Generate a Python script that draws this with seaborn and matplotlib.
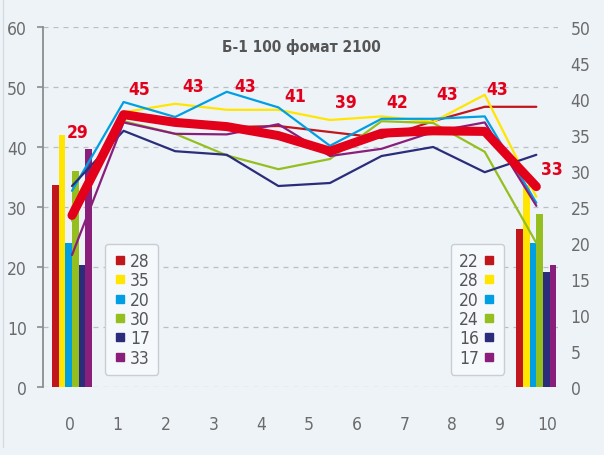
import numpy as np
import pandas as pd
import matplotlib
matplotlib.use('Agg')
import matplotlib.pyplot as plt
from matplotlib.lines import Line2D
import seaborn as sns

# data
positions = list(range(10))
series_names = ['s1', 's2', 's3', 's4', 's5', 's6']
series_colors = ['#c1161c', '#ffe500', '#009fe3', '#95bf1f', '#2b2d7a', '#8a1e7b']

line_red = [28.0, 45.0, 44.0, 43.3, 43.5, 42.5, 41.5, 44.3, 46.7, 46.7]
line_yellow = [30.0, 45.8, 47.2, 46.2, 46.2, 44.5, 45.1, 44.2, 48.7, 31.7]
line_blue = [32.7, 47.5, 45.0, 49.2, 46.6, 40.2, 44.7, 44.7, 45.1, 30.7]
line_green = [27.7, 44.3, 42.2, 38.6, 36.3, 38.0, 44.3, 44.0, 39.2, 24.0]
line_navy = [33.5, 42.7, 39.3, 38.7, 33.5, 34.0, 38.5, 40.0, 35.8, 38.7]
line_purple = [22.0, 44.1, 42.2, 42.1, 43.8, 38.5, 39.7, 42.5, 44.1, 30.2]
line_avg = [28.6, 45.4, 44.1, 43.4, 41.9, 39.3, 42.3, 42.7, 42.6, 33.4]
avg_labels = [29, 45, 43, 43, 41, 39, 42, 43, 43, 33]

bar_positions = [0, 9]
bars_start = [28, 35, 20, 30, 17, 33]
bars_end = [22, 28, 20, 24, 16, 17]

x_tick_labels = [str(i) for i in range(11)]

# layout for the red value labels
label_dx = [0.1, 0.3, 0.35, 0.35, 0.33, 0.31, 0.3, 0.27, 0.24, 0.3]
label_y = [42.5, 49.7, 50.2, 50.2, 48.5, 47.5, 47.5, 48.8, 49.7, 36.3]

bg = '#eef3f7'
grey_txt = '#6b6b6b'

sns.set_style('white')
plt.rcParams['font.family'] = ['DejaVu Sans']
plt.rcParams['font.stretch'] = 'condensed'

line_df = pd.DataFrame({
    'pos': positions * 6,
    'value': line_red + line_yellow + line_blue + line_green + line_navy + line_purple,
    'series': np.repeat(series_names, len(positions)),
})
bar_df = pd.DataFrame({
    'pos': np.repeat(bar_positions, 6),
    'value': bars_start + bars_end,
    'series': series_names * 2,
})
palette = dict(zip(series_names, series_colors))

fig = plt.figure(figsize=(6.04, 4.56), dpi=100, facecolor=bg)
fig.add_artist(Line2D([3 / 604, 3 / 604], [1 - 448 / 456, 1], transform=fig.transFigure,
                      color='#d5dbe2', lw=1))

ax = fig.add_axes([43 / 604, 1 - 388 / 456, (558 - 43) / 604, 360 / 456])
ax2 = ax.twinx()
ax.set_zorder(ax2.get_zorder() + 1)
ax.patch.set_visible(False)
ax2.patch.set_facecolor(bg)

# bars (right scale)
sns.barplot(data=bar_df, x='pos', y='value', hue='series', native_scale=True,
            palette=palette, width=0.77 / 9, saturation=1, errorbar=None,
            legend=False, ax=ax2, zorder=2, linewidth=0)
for v in range(0, 61, 10):
    ax2.axhline(v * 50 / 60, color='#b9bec4', lw=0.9, dashes=(4, 4), zorder=0)

# lines (left scale)
sns.lineplot(data=line_df, x='pos', y='value', hue='series', palette=palette,
             linewidth=1.6, legend=False, ax=ax, sort=False)
sns.lineplot(x=positions, y=line_avg, color='#e2001a', linewidth=6.5, ax=ax,
             solid_capstyle='round', solid_joinstyle='round')

for p, dx, ly, lab in zip(positions, label_dx, label_y, avg_labels):
    ax.text(p + dx, ly, str(lab), color='#e2001a', fontsize=12.5, fontweight='bold',
            ha='center', va='center')

ax.set_xlim(-0.562, 9.42)
ax.set_ylim(0, 60)
ax2.set_ylim(0, 50)
ax.set_yticks(range(0, 61, 10))
ax2.set_yticks(range(0, 51, 5))
ax.set_xticks([-0.04 + 0.926 * j for j in range(11)])
ax.set_xticklabels(x_tick_labels)
for a in (ax, ax2):
    a.set_xlabel('')
    a.set_ylabel('')
    for s in a.spines.values():
        s.set_visible(False)
ax.spines['left'].set_visible(True)
ax.spines['left'].set_color('#8c8c8c')
ax.spines['left'].set_linewidth(1.3)
ax.tick_params(axis='y', left=True, length=4.5, width=1.2, color='#8c8c8c',
               labelsize=12.5, labelcolor=grey_txt, pad=7)
ax.tick_params(axis='x', bottom=False, labelsize=12.5, labelcolor=grey_txt, pad=17)
ax2.tick_params(axis='y', right=True, length=0, labelsize=12.5, labelcolor=grey_txt, pad=9)

fig.text(301 / 604, 1 - 47 / 456, 'Б-1 100 фомат 2100', ha='center', va='center',
         fontsize=11, fontweight='bold', color='#555555')

# value boxes
h_start = [Line2D([], [], marker='s', ls='', color=c, markersize=5.5) for c in series_colors]
box_style = dict(loc='upper left', bbox_transform=fig.transFigure, borderaxespad=0,
                 fontsize=12.5, labelspacing=0.08, handletextpad=0.2, handlelength=0.8,
                 borderpad=0.45, fancybox=True, framealpha=1, facecolor='#f6f9fb',
                 edgecolor='#c9ced4', labelcolor='#555555')
leg1 = ax.legend(h_start, [str(v) for v in bars_start],
                 bbox_to_anchor=(105 / 604, 1 - 245 / 456), **box_style)
ax.add_artist(leg1)
leg2 = ax.legend(h_start, [str(v) for v in bars_end],
                 bbox_to_anchor=(451 / 604, 1 - 245 / 456), markerfirst=False, **box_style)

fig.savefig('out.png', dpi=100, facecolor=bg)
